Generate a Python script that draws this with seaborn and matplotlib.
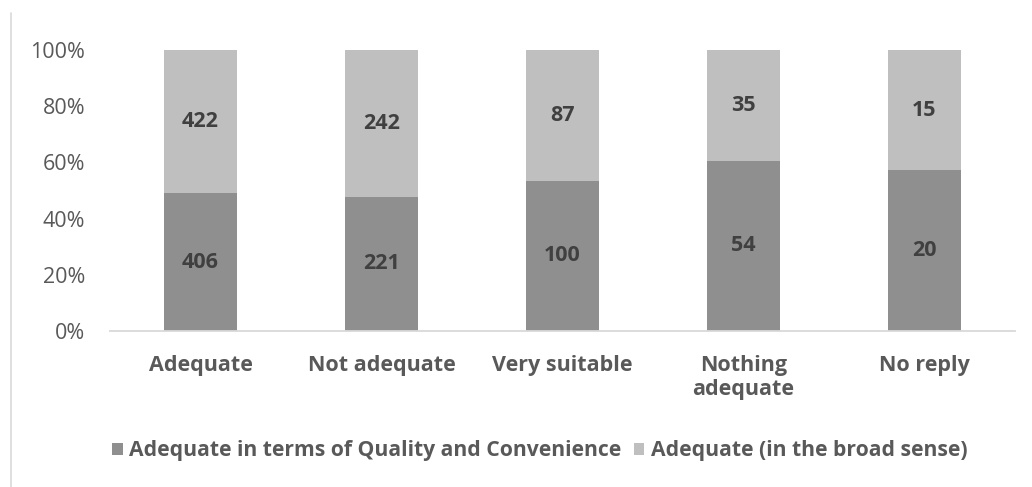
import matplotlib
matplotlib.use("Agg")
import matplotlib.pyplot as plt
import matplotlib.lines as mlines
from matplotlib.patches import Patch
from matplotlib.ticker import PercentFormatter, MultipleLocator
import numpy as np
import pandas as pd
import seaborn as sns

categories = ["Adequate", "Not adequate", "Very suitable", "Nothing\nadequate", "No reply"]
quality_convenience = [406, 221, 100, 54, 20]
broad_sense = [422, 242, 87, 35, 15]
series_names = ["Adequate in terms of Quality and Convenience", "Adequate (in the broad sense)"]
series_colors = ["#8f8f8f", "#bfbfbf"]

sns.set_theme(style="white")
plt.rcParams["font.family"] = ["Open Sans", "DejaVu Sans"]

totals = np.array(quality_convenience) + np.array(broad_sense)
share_q = np.array(quality_convenience) / totals * 100
share_all = np.full(len(categories), 100.0)

df = pd.DataFrame({"category": categories, "q": share_q, "top": share_all})

fig = plt.figure(figsize=(10.32, 4.87), dpi=100)
ax = fig.add_axes([0.1066, 0.3203, 0.8769, 0.577])

# Stacked 100% bars: full-height light bar, dark share drawn over it
sns.barplot(data=df, x="category", y="top", color=series_colors[1], width=0.4,
            saturation=1, ax=ax, edgecolor="none")
sns.barplot(data=df, x="category", y="q", color=series_colors[0], width=0.4,
            saturation=1, ax=ax, edgecolor="none")

for i in range(len(categories)):
    ax.text(i, share_q[i] / 2, str(quality_convenience[i]), ha="center", va="center",
            fontsize=15.5, fontweight="bold", color="#404040")
    ax.text(i, share_q[i] + (100 - share_q[i]) / 2, str(broad_sense[i]), ha="center",
            va="center", fontsize=15.5, fontweight="bold", color="#404040")

ax.set_ylim(0, 100)
ax.set_xlim(-0.5, len(categories) - 0.5)
ax.yaxis.set_major_locator(MultipleLocator(20))
ax.yaxis.set_major_formatter(PercentFormatter(decimals=0))
ax.set_xlabel("")
ax.set_ylabel("")
for s in ["top", "right", "left"]:
    ax.spines[s].set_visible(False)
ax.spines["bottom"].set_color("#d9d9d9")
ax.spines["bottom"].set_linewidth(1.3)
ax.tick_params(axis="y", length=0, pad=18, labelsize=15.5, labelcolor="#595959")
ax.tick_params(axis="x", length=0, pad=17, labelsize=15.5, labelcolor="#595959")
for lbl in ax.get_xticklabels():
    lbl.set_fontweight("bold")
    lbl.set_linespacing(1.22)
    lbl.set_verticalalignment("top")

handles = [Patch(facecolor=c, edgecolor="none") for c in series_colors]
leg = fig.legend(handles, series_names, loc="center", bbox_to_anchor=(0.523, 0.074),
                 ncol=2, frameon=False, handlelength=0.5, handleheight=0.5,
                 handletextpad=0.3, columnspacing=0.6,
                 prop={"size": 15.2, "weight": "bold"})
for t in leg.get_texts():
    t.set_color("#595959")

# Thin border line along the left edge
fig.add_artist(mlines.Line2D([11 / 1032, 11 / 1032], [0, 1 - 13 / 487],
                             color="#d9d9d9", linewidth=1.2))

fig.savefig("out.png", dpi=100)
